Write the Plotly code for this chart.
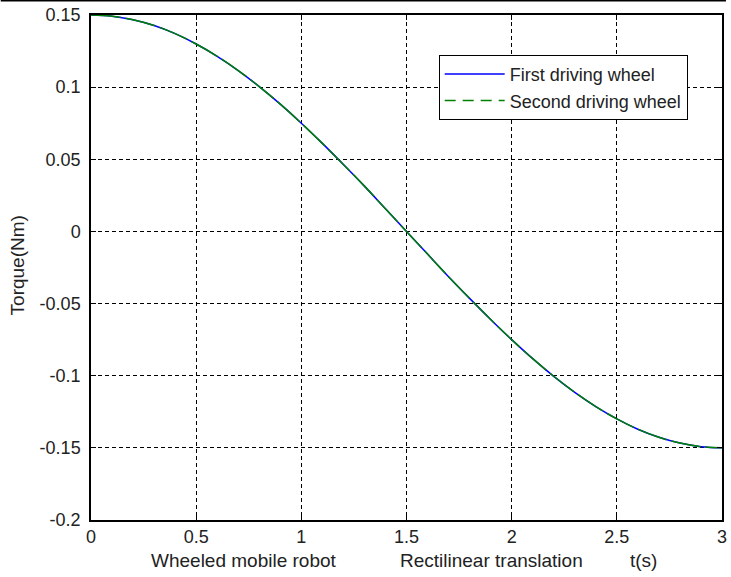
import plotly.graph_objects as go

# Data
t = [0.0, 0.1, 0.2, 0.3, 0.4, 0.5, 0.6, 0.7, 0.8, 0.9, 1.0,
     1.1, 1.2, 1.3, 1.4, 1.5, 1.6, 1.7, 1.8, 1.9, 2.0,
     2.1, 2.2, 2.3, 2.4, 2.5, 2.6, 2.7, 2.8, 2.9, 3.0]
first_wheel = [0.1500, 0.1492, 0.1467, 0.1427, 0.1371, 0.1299, 0.1214, 0.1115, 0.1004, 0.0882, 0.0750,
               0.0610, 0.0464, 0.0314, 0.0157, 0.0000, -0.0157, -0.0314, -0.0464, -0.0610, -0.0750,
               -0.0882, -0.1004, -0.1115, -0.1214, -0.1299, -0.1371, -0.1427, -0.1467, -0.1492, -0.1500]
second_wheel = [0.1500, 0.1492, 0.1467, 0.1427, 0.1371, 0.1299, 0.1214, 0.1115, 0.1004, 0.0882, 0.0750,
                0.0610, 0.0464, 0.0314, 0.0157, 0.0000, -0.0157, -0.0314, -0.0464, -0.0610, -0.0750,
                -0.0882, -0.1004, -0.1115, -0.1214, -0.1299, -0.1371, -0.1427, -0.1467, -0.1492, -0.1500]
series_names = ["First driving wheel", "Second driving wheel"]
x_ticks = [0, 0.5, 1, 1.5, 2, 2.5, 3]
x_ticktext = ["0", "0.5", "1", "1.5", "2", "2.5", "3"]
y_ticks = [0.15, 0.1, 0.05, 0, -0.05, -0.1, -0.15, -0.2]
y_ticktext = ["0.15", "0.1", "0.05", "0", "-0.05", "-0.1", "-0.15", "-0.2"]
bottom_labels = ["Wheeled mobile robot", "Rectilinear translation", "t(s)"]
y_label = "Torque(Nm)"

FONT = "Liberation Sans, Arial, sans-serif"
TXT = "#222"
BLUE = "#0000ff"
GREEN = "#008000"

fig = go.Figure()
fig.add_trace(go.Scatter(x=t, y=first_wheel, mode="lines", line_shape="spline",
                         line=dict(color=BLUE, width=1.5), showlegend=False, hoverinfo="skip"))
fig.add_trace(go.Scatter(x=t, y=second_wheel, mode="lines", line_shape="spline",
                         line=dict(color=GREEN, width=1.5, dash="30px,5px"), showlegend=False,
                         hoverinfo="skip"))
# legend entries
fig.add_trace(go.Scatter(x=[None], y=[None], mode="lines", name=series_names[0],
                         line=dict(color=BLUE, width=1.5)))
fig.add_trace(go.Scatter(x=[None], y=[None], mode="lines", name=series_names[1],
                         line=dict(color=GREEN, width=1.5, dash="11px,7px")))

axis_common = dict(showline=True, linecolor="black", linewidth=1.5, mirror="ticks",
                   ticks="inside", ticklen=5, tickcolor="black",
                   showgrid=True, gridcolor="black", gridwidth=1, griddash="4px,3px",
                   zeroline=False, tickfont=dict(family=FONT, size=18, color=TXT))

fig.update_xaxes(range=[0, 3], tickvals=x_ticks, ticktext=x_ticktext, **axis_common)
fig.update_yaxes(range=[-0.2, 0.15], tickvals=y_ticks, ticktext=y_ticktext,
                 ticklabelstandoff=5, **axis_common)

annotations = []
for txt, xp in zip(bottom_labels, [0.242, 0.635, 0.876]):
    annotations.append(dict(text=txt, x=xp, y=-0.081, xref="paper", yref="paper",
                            xanchor="center", yanchor="middle", showarrow=False,
                            font=dict(family=FONT, size=19, color=TXT)))
annotations.append(dict(text=y_label, x=-0.115, y=0.505, xref="paper", yref="paper",
                        xanchor="center", yanchor="middle", textangle=-90, showarrow=False,
                        font=dict(family=FONT, size=19, color=TXT)))

fig.update_layout(
    width=731, height=577,
    margin=dict(l=91, r=4, t=15, b=57),
    paper_bgcolor="white", plot_bgcolor="white",
    annotations=annotations,
    legend=dict(x=0.551, y=0.921, xanchor="left", yanchor="top",
                bgcolor="white", bordercolor="black", borderwidth=1,
                font=dict(family=FONT, size=18, color=TXT),
                itemwidth=60, tracegroupgap=0),
    shapes=[dict(type="line", xref="paper", yref="paper",
                 x0=-91 / 636, x1=640 / 636, y0=1 + 14.5 / 505, y1=1 + 14.5 / 505,
                 line=dict(color="black", width=2))],
)

fig.write_html("out.html")
